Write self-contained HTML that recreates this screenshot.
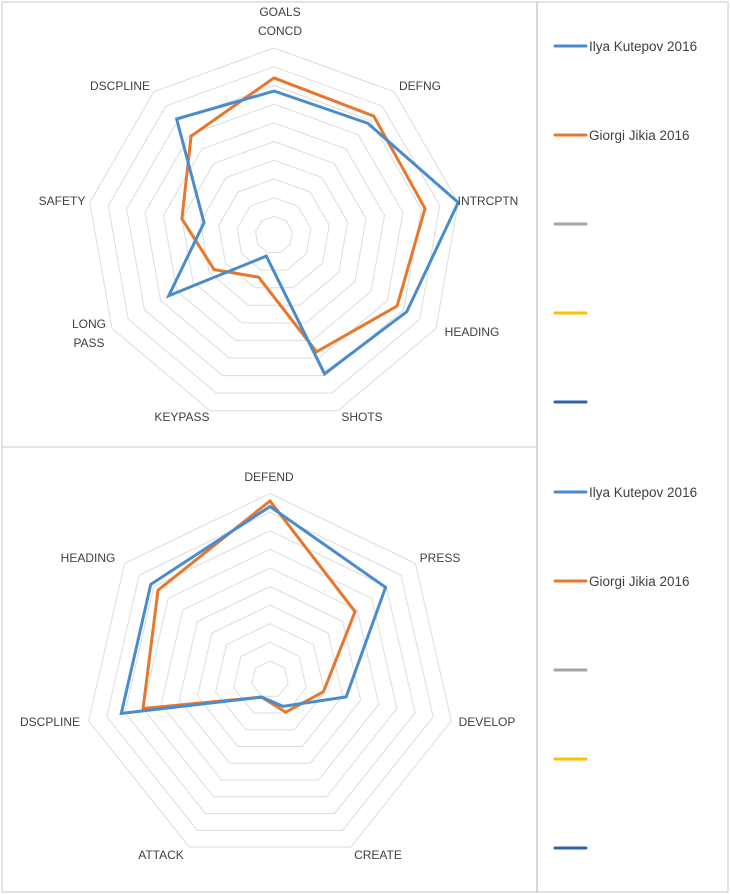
<!DOCTYPE html>
<html><head><meta charset="utf-8"><style>
body{margin:0;background:#fff;}
svg{display:block;font-family:"Liberation Sans",sans-serif;}
</style></head><body>
<svg id="s" width="730" height="894">
<rect x="2" y="2" width="726" height="890" fill="#fff" stroke="#c8c8c8"/>
<line x1="537" y1="2" x2="537" y2="892" stroke="#b0b0b0"/>
<line x1="2" y1="447" x2="537" y2="447" stroke="#c8c8c8"/>
</svg>
<script>
const topCats=["GOALS|CONCD","DEFNG","INTRCPTN","HEADING","SHOTS","KEYPASS","LONG|PASS","SAFETY","DSCPLINE"];
const topKutepov=[7.7,7.8,10,8.2,7.9,1.2,6.5,3.8,8.1];
const topJikia=[8.4,8.3,8.2,7.6,6.65,2.4,3.7,5.0,6.9];
const botCats=["DEFEND","PRESS","DEVELOP","CREATE","ATTACK","DSCPLINE","HEADING"];
const botKutepov=[9.3,7.95,4.2,1.6,1.05,8.2,8.2];
const botJikia=[9.6,5.85,2.95,1.95,1.05,7.0,7.7];
const seriesNames=["Ilya Kutepov 2016","Giorgi Jikia 2016","",""," "];
const seriesColors=["#4a8ccb","#e8772e","#a5a5a5","#ffc000","#2f62ad"];
const maxVal=10, rings=10;
const svg=document.getElementById('s');
const NS='http://www.w3.org/2000/svg';
function mk(t,a){const e=document.createElementNS(NS,t);for(const k in a)e.setAttribute(k,a[k]);svg.appendChild(e);return e;}
const topLabelPos=[[280,12],[420,86],[488,201],[472,332],[362,417],[182,417],[89,324],[62,201],[120,86]];
const botLabelPos=[[269,477],[440,558],[487,722],[378,855],[161,855],[50,722],[88,558]];
function radar(cx,cy,R,cats,s1,s2,labelPos,prefix){
  const n=cats.length;
  const pt=(i,v)=>{const a=2*Math.PI*i/n;const r=R*v/maxVal;return [cx+r*Math.sin(a),cy-r*Math.cos(a)];};
  for(let k=1;k<=rings;k++){
    const pts=cats.map((c,i)=>pt(i,maxVal*k/rings).join(',')).join(' ');
    const g=mk('polygon',{points:pts,fill:'none',stroke:'#dcdcdc','stroke-width':1});
    
    
  }
  [[s2,seriesColors[1],'jikia'],[s1,seriesColors[0],'kutepov']].forEach(([s,c,nm])=>{
    const pts=s.map((v,i)=>pt(i,v).join(',')).join(' ');
    const p=mk('polygon',{points:pts,fill:'none',stroke:c,'stroke-width':3,'stroke-linejoin':'miter'});
    
    
  });
  cats.forEach((c,i)=>{
    const parts=c.split('|');
    parts.forEach((t,j)=>{
      const e=mk('text',{x:labelPos[i][0],y:labelPos[i][1]+4+j*19,'text-anchor':'middle','font-size':12,fill:'#404040'});
      e.textContent=t;
      
      
    });
  });
}
radar(274,235,187,topCats,topKutepov,topJikia,topLabelPos,'top-radar');
radar(270,679.5,186,botCats,botKutepov,botJikia,botLabelPos,'bottom-radar');
function legend(y0,prefix){
  seriesNames.forEach((nm,i)=>{
    const y=y0+i*89;
    const l=mk('line',{x1:555,y1:y,x2:586,y2:y,stroke:seriesColors[i],'stroke-width':3,'stroke-linecap':'round'});
    
    
    if(nm.trim()){
      const t=mk('text',{x:589,y:y+5,'font-size':13.5,fill:'#404040'});
      t.textContent=nm;
      
      
    }
  });
}
legend(46,'top');
legend(492,'bottom');
</script>
</body></html>
